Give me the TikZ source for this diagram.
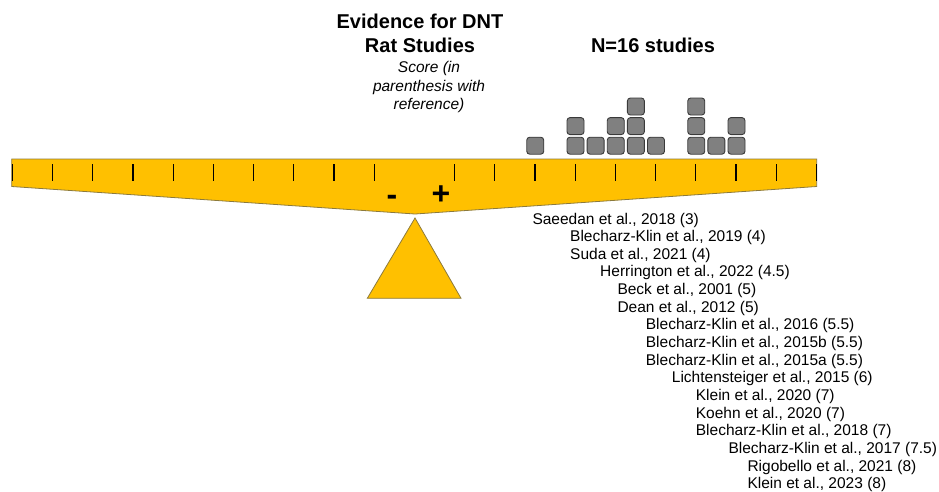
\documentclass[tikz,border=0pt]{standalone}
\usepackage{fontspec}
\setmainfont{Liberation Sans}
\definecolor{beamfill}{HTML}{FFC000}
\definecolor{beamline}{HTML}{8C7A3C}
\definecolor{boxfill}{HTML}{808080}
\definecolor{boxline}{HTML}{3A3A3A}
\begin{document}
\begin{tikzpicture}[x=1pt,y=-1pt,
  ref/.style={anchor=base west, inner sep=0pt, font=\fontsize{15.5}{17.65}\selectfont},
  ttl/.style={anchor=base, inner sep=0pt, font=\fontsize{20}{24.5}\selectfont\bfseries},
  sub/.style={anchor=base, inner sep=0pt, font=\fontsize{15.5}{18.5}\selectfont\itshape},
  sign/.style={anchor=base, inner sep=0pt, font=\fontsize{32}{32}\selectfont\bfseries},
  study/.style={draw=boxline, fill=boxfill, line width=0.9pt, rounded corners=3pt,
                minimum width=17pt, minimum height=17pt, inner sep=0pt},
  scaletick/.style={line width=1.2pt, black},
  seesaw/.style={fill=beamfill, draw=beamline, line width=0.8pt, line join=miter},
]
\useasboundingbox[fill=white] (0,0) rectangle (939,491);

% beam
\coordinate (bTL) at (11.7,159);
\coordinate (bTR) at (816.7,159);
\coordinate (bBR) at (816.7,186.5);
\coordinate (bTip) at (415,214);
\coordinate (bBL) at (11.7,186.5);
\draw[seesaw] (bTL) -- (bTR) -- (bBR) -- (bTip) -- (bBL) -- cycle;

% fulcrum
\coordinate (fTop) at (415,218);
\coordinate (fR) at (461,298.3);
\coordinate (fL) at (367.3,298.3);
\draw[seesaw] (fTop) -- (fR) -- (fL) -- cycle;

% ticks
\foreach \k in {0,...,9,11,12,...,20}
  \draw[scaletick] ({12.3+40.2*\k},164) -- ({12.3+40.2*\k},181);

% study squares (score / row)
\foreach \s/\r [count=\i] in {3/1,4/1,4/2,4.5/1,5/1,5/2,5.5/1,5.5/2,5.5/3,6/1,7/1,7/2,7/3,7.5/1,8/1,8/2}
  \node[study] (sq\i) at ({414.5+40.25*\s},{145.7-19.6*(\r-1)}) {};

% titles
\node[ttl] (t1) at (420,28) {Evidence for DNT};
\node[ttl] (t2) at (420,52.7) {Rat Studies};
\node[ttl] (nst) at (653,52) {N=16 studies};
\node[sub] (s1) at (429,72.8) {Score (in};
\node[sub] (s2) at (429,91) {parenthesis with};
\node[sub] (s3) at (429,109.5) {reference)};

% signs
\node[sign] (minus) at (392,205.5) {-};
\node[sign] (plus) at (441,204.5) {+};

% references
\node[ref] (r0)  at (532.3,{224+17.65*0})  {Saeedan et al., 2018 (3)};
\node[ref] (r1)  at (570,{224+17.65*1})    {Blecharz-Klin et al., 2019 (4)};
\node[ref] (r2)  at (570,{224+17.65*2})    {Suda et al., 2021 (4)};
\node[ref] (r3)  at (600,{224+17.65*3})    {Herrington et al., 2022 (4.5)};
\node[ref] (r4)  at (617.3,{224+17.65*4})  {Beck et al., 2001 (5)};
\node[ref] (r5)  at (617.3,{224+17.65*5})  {Dean et al., 2012 (5)};
\node[ref] (r6)  at (645.7,{224+17.65*6})  {Blecharz-Klin et al., 2016 (5.5)};
\node[ref] (r7)  at (645.7,{224+17.65*7})  {Blecharz-Klin et al., 2015b (5.5)};
\node[ref] (r8)  at (645.7,{224+17.65*8})  {Blecharz-Klin et al., 2015a (5.5)};
\node[ref] (r9)  at (671.7,{224+17.65*9})  {Lichtensteiger et al., 2015 (6)};
\node[ref] (r10) at (695.7,{224+17.65*10}) {Klein et al., 2020 (7)};
\node[ref] (r11) at (695.7,{224+17.65*11}) {Koehn et al., 2020 (7)};
\node[ref] (r12) at (695.7,{224+17.65*12}) {Blecharz-Klin et al., 2018 (7)};
\node[ref] (r13) at (728.3,{224+17.65*13}) {Blecharz-Klin et al., 2017 (7.5)};
\node[ref] (r14) at (747.3,{224+17.65*14}) {Rigobello et al., 2021 (8)};
\node[ref] (r15) at (747.3,{224+17.65*15}) {Klein et al., 2023 (8)};
\end{tikzpicture}
\end{document}
